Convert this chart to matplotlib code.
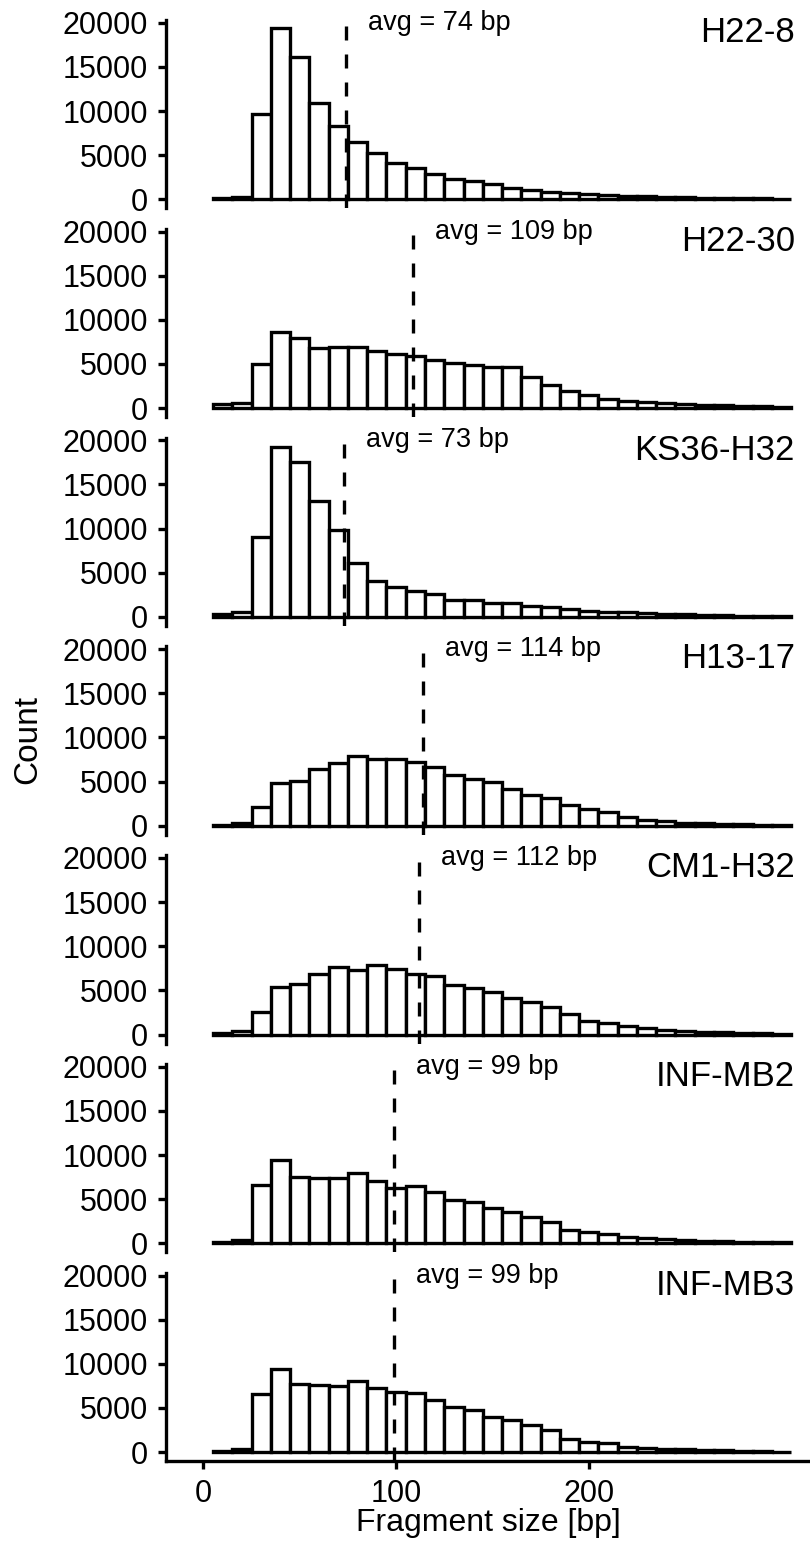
import matplotlib
matplotlib.use("Agg")
import matplotlib.pyplot as plt

plt.rcParams['font.family'] = ['Liberation Sans', 'DejaVu Sans']

# histogram bins (10 bp wide), left edges
bin_starts = list(range(5, 305, 10))

samples = ["H22-8", "H22-30", "KS36-H32", "H13-17", "CM1-H32", "INF-MB2", "INF-MB3"]
avg_bp = [74, 109, 73, 114, 112, 99, 99]

counts_h22_8 = [100, 300, 9700, 19400, 16100, 10900, 8300, 6500, 5300, 4150,
                3550, 2900, 2350, 2100, 1700, 1250, 1000, 850, 750, 600,
                450, 400, 330, 300, 250, 200, 150, 120, 100, 80]
counts_h22_30 = [450, 550, 5000, 8650, 7900, 6850, 6950, 6950, 6450, 6150,
                 5900, 5500, 5150, 4850, 4650, 4650, 3550, 2650, 1950, 1500,
                 1000, 750, 700, 600, 500, 350, 300, 250, 200, 150]
counts_ks36_h32 = [380, 600, 9100, 19200, 17550, 13100, 9800, 6100, 4050, 3400,
                   2900, 2550, 1900, 1900, 1600, 1600, 1250, 1100, 850, 700,
                   550, 500, 400, 350, 300, 250, 200, 150, 100, 50]
counts_h13_17 = [100, 300, 2150, 4850, 5100, 6400, 7150, 7900, 7600, 7600,
                 7200, 6600, 5700, 5300, 5000, 4200, 3500, 3150, 2400, 1900,
                 1500, 950, 700, 500, 350, 250, 200, 150, 100, 80]
counts_cm1_h32 = [200, 350, 2500, 5400, 5700, 6850, 7700, 7300, 7900, 7400,
                  6900, 6600, 5550, 5250, 4850, 4100, 3650, 3100, 2350, 1500,
                  1300, 1000, 700, 550, 350, 300, 250, 200, 150, 100]
counts_inf_mb2 = [100, 380, 6600, 9450, 7550, 7450, 7350, 7950, 7100, 6300,
                  6500, 5850, 4950, 4700, 3950, 3600, 3000, 2450, 1500, 1300,
                  1050, 700, 550, 450, 350, 300, 250, 200, 150, 100]
counts_inf_mb3 = [100, 350, 6600, 9400, 7700, 7600, 7500, 8000, 7300, 6800,
                  6650, 5900, 5100, 4800, 4000, 3600, 3100, 2450, 1500, 1200,
                  1000, 600, 450, 350, 300, 250, 200, 150, 100, 50]

all_counts = [counts_h22_8, counts_h22_30, counts_ks36_h32, counts_h13_17,
              counts_cm1_h32, counts_inf_mb2, counts_inf_mb3]

W, H = 810, 1544
fig = plt.figure(figsize=(W / 100, H / 100), dpi=100)

lw = 2.4
left_px, top0_px, step_px, panel_h = 166, 20, 208.8, 188.4

for i, (name, avg, counts) in enumerate(zip(samples, avg_bp, all_counts)):
    top = top0_px + step_px * i
    ax = fig.add_axes([left_px / W, 1 - (top + panel_h) / H, 1 - left_px / W, panel_h / H])
    ax.bar(bin_starts, counts, width=10, align='edge', facecolor='white',
           edgecolor='black', linewidth=lw, joinstyle='miter')
    ax.axvline(avg, color='black', linewidth=lw, dashes=(4.2, 4.2))
    ax.text(avg + 11.4, 20000, f"avg = {avg} bp", ha='left', va='center', fontsize=19.5)
    ax.text(307, 18900, name, ha='right', va='center', fontsize=25)

    ax.set_xlim(-19.4, 314.8)
    ax.set_ylim(-1030, 20306)
    ax.set_yticks([0, 5000, 10000, 15000, 20000])
    ax.set_xticks([0, 100, 200])
    for s in ['top', 'right']:
        ax.spines[s].set_visible(False)
    ax.spines['left'].set_linewidth(lw)
    ax.spines['bottom'].set_linewidth(lw)
    ax.tick_params(axis='both', direction='out', length=6, width=lw, pad=7,
                   labelsize=22, color='black', labelcolor='black')
    if i < len(samples) - 1:
        ax.spines['bottom'].set_visible(False)
        ax.tick_params(axis='x', bottom=False, labelbottom=False)

fig.text(488 / W, 1 - 1523 / H, "Fragment size [bp]", ha='center', va='center', fontsize=23)
fig.text(28 / W, 1 - 740 / H, "Count", rotation=90, ha='center', va='center', fontsize=24)

fig.savefig("out.png", dpi=100, facecolor='white')
